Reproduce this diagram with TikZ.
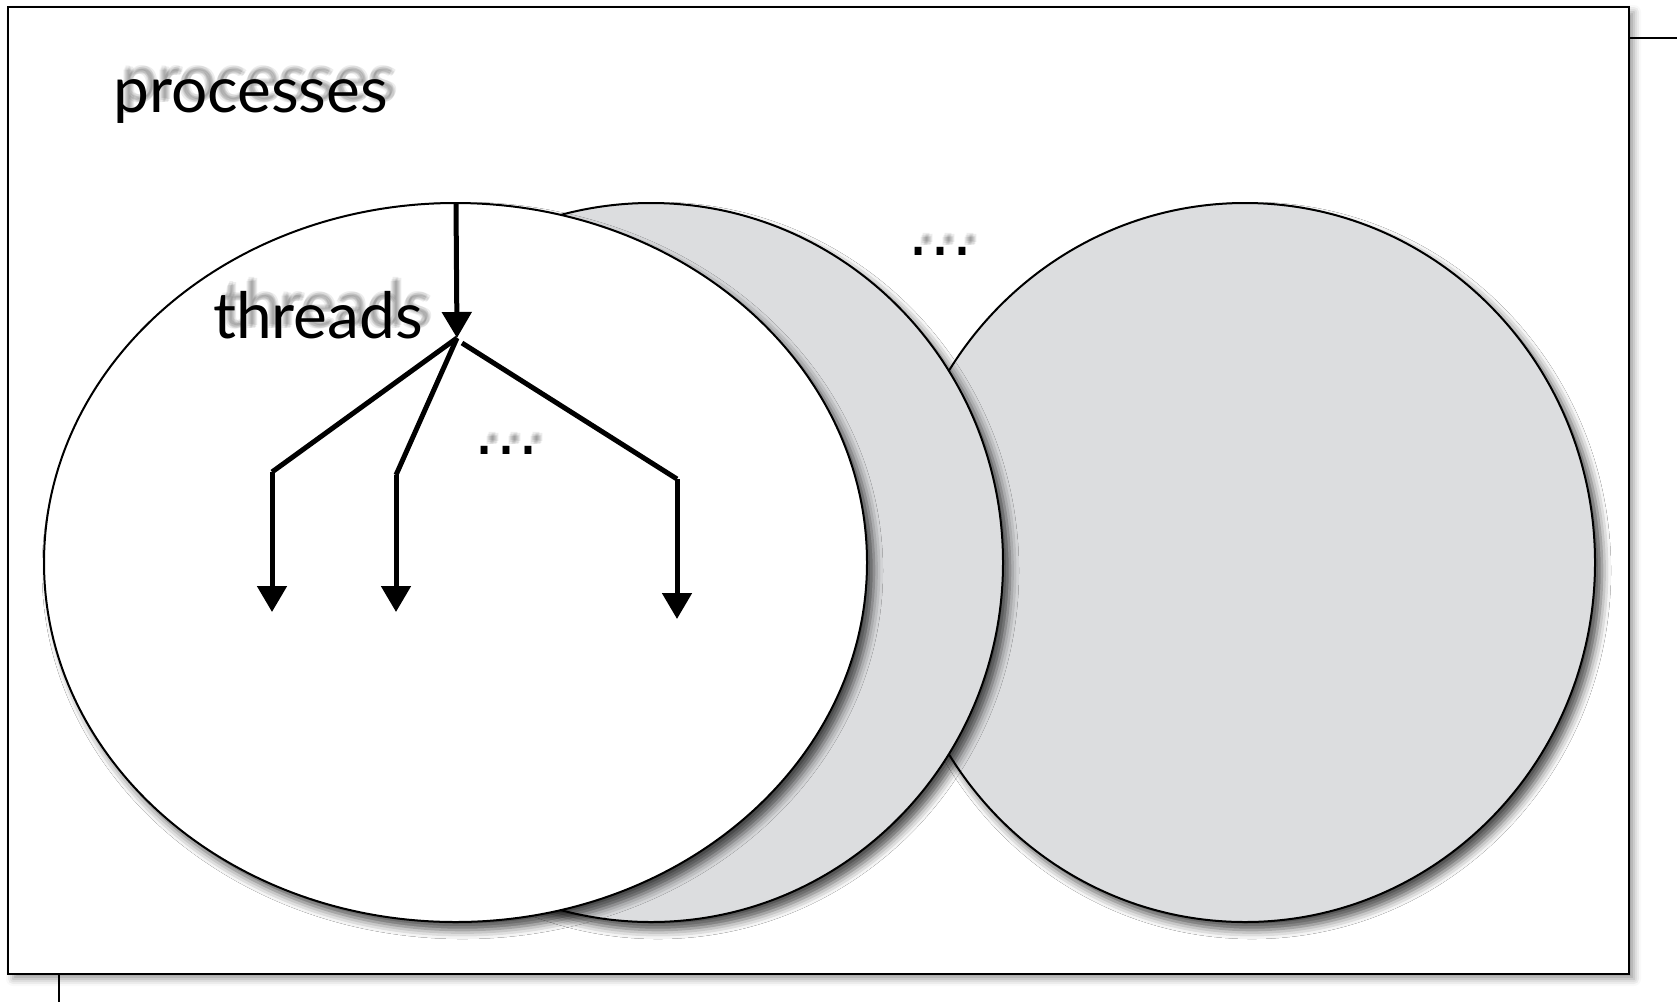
\documentclass[tikz,border=0pt]{standalone}
\usepackage{fontspec}
\setmainfont{Lato}
\newfontfamily\dotfont{DejaVu Sans}
\usetikzlibrary{arrows.meta,shadows.blur}
\definecolor{procgray}{RGB}{220,221,223}
\begin{document}
\begin{tikzpicture}[x=1pt,y=-1pt,
  frame/.style={draw=black,line width=2.2pt,fill=white,
    blur shadow={shadow xshift=5pt,shadow yshift=-5pt,shadow blur radius=7pt,shadow opacity=40}},
  proc/.style={draw=black,line width=2pt,
    blur shadow={shadow xshift=7pt,shadow yshift=-8pt,shadow blur radius=9pt,shadow opacity=70}},
  flow/.style={opacity=1,draw=black,fill=black,line width=5pt,-{Triangle[width=29pt,length=26pt]}},
  branch/.style={opacity=1,draw=black,line width=5pt},
  lbl/.style={font=\fontsize{64}{76}\selectfont,inner sep=0pt,anchor=base west},
  dotsl/.style={font=\dotfont\fontsize{66}{78}\selectfont,inner sep=0pt,anchor=base},
  ghost/.style={text=black,text opacity=0.07},
]
\useasboundingbox (0,0) rectangle (1677,1002);
% frame
\begin{scope}
\path[frame] (8,7) rectangle (1629,974);
\end{scope}
\coordinate (rtick0) at (1629,38);
\coordinate (rtick1) at (1677,38);
\coordinate (btick0) at (59,974);
\coordinate (btick1) at (59,1002);
\draw[line width=2.2pt,opacity=1] (rtick0) -- (rtick1);
\draw[line width=2.2pt,opacity=1] (btick0) -- (btick1);
% processes
\begin{scope}
\path[proc,fill=procgray] (1245,562.5) ellipse [x radius=350,y radius=359.5];
\end{scope}
\begin{scope}
\path[proc,fill=procgray] (651,562.5) ellipse [x radius=352,y radius=359.5];
\end{scope}
\begin{scope}
\path[proc,fill=white] (455.5,562.5) ellipse [x radius=411.5,y radius=359.5];
\end{scope}
% text ghosts (blurred shadow)
\begin{scope}
\foreach \dx/\dy in {7/-12,9/-10,11/-13,8/-14,10/-11,6/-10} {
  \node[lbl,ghost] at (113+\dx,112+\dy) {processes};
  \node[lbl,ghost] at (213+\dx,338+\dy) {threads};
  \node[dotsl,ghost] at (940+\dx,255+\dy) {…};
  \node[dotsl,ghost] at (506+\dx,454+\dy) {…};
}
\end{scope}
% labels
\node[lbl,text opacity=1] (proclbl) at (113,112) {processes};
\node[lbl,text opacity=1] (thrlbl) at (213,338) {threads};
\node[dotsl,text opacity=1] (pdots) at (940,255) {…};
\node[dotsl,text opacity=1] (tdots) at (506,454) {…};
% threads arrows
\coordinate (top) at (456,203);
\coordinate (fork) at (457,338);
\coordinate (ka) at (272,472);
\coordinate (kb) at (396,475);
\coordinate (kc) at (677,479);
\coordinate (ea) at (272,612);
\coordinate (eb) at (396,612);
\coordinate (ec) at (677,619);
\draw[flow] (top) -- (fork);
\draw[branch] (fork) -- (ka);
\draw[branch] (fork) -- (kb);
\draw[branch] (462,343) -- (kc);
\draw[flow] (ka) -- (ea);
\draw[flow] (kb) -- (eb);
\draw[flow] (kc) -- (ec);
\end{tikzpicture}
\end{document}
